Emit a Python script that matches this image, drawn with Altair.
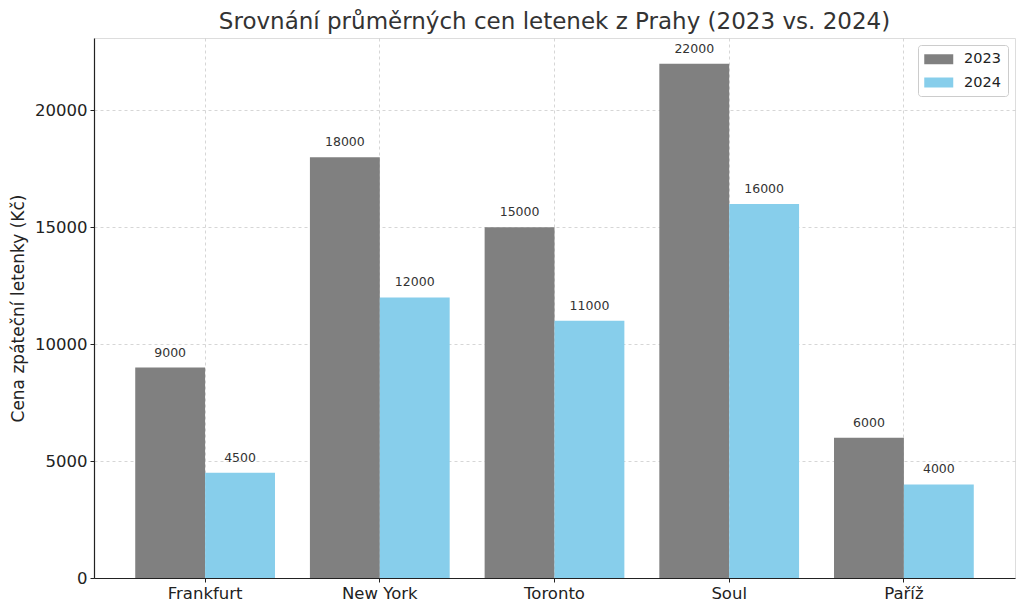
import altair as alt
import pandas as pd

cities = ["Frankfurt", "New York", "Toronto", "Soul", "Paříž"]
prices_2023 = [9000, 18000, 15000, 22000, 6000]
prices_2024 = [4500, 12000, 11000, 16000, 4000]
years = ["2023", "2024"]
colors = ["#808080", "#87CEEB"]

rows = []
for c, a, b in zip(cities, prices_2023, prices_2024):
    rows.append({"Město": c, "Rok": "2023", "Cena": a})
    rows.append({"Město": c, "Rok": "2024", "Cena": b})
df = pd.DataFrame(rows)

FONT = "DejaVu Sans"

x = alt.X("Město:N", sort=cities, title=None,
          scale=alt.Scale(paddingInner=0.2, paddingOuter=0.236),
          axis=alt.Axis(labelAngle=0, labelFontSize=16.5, labelFont=FONT, labelColor="#222",
                        labelPadding=3, tickSize=4, tickColor="#222",
                        domainColor="#222", domainWidth=1.2, grid=True,
                        gridDash=[3, 3], gridColor="#cccccc", gridWidth=0.8,
                        bandPosition=0.5))
y = alt.Y("Cena:Q", title="Cena zpáteční letenky (Kč)",
          scale=alt.Scale(domain=[0, 23100], nice=False),
          axis=alt.Axis(values=[0, 5000, 10000, 15000, 20000], format="d",
                        labelFontSize=16.5, labelFont=FONT, labelColor="#222", tickSize=4,
                        labelPadding=3,
                        tickColor="#222", domainColor="#222", domainWidth=1.2,
                        titleFontSize=17, titleFont=FONT, titleColor="#222",
                        titleFontWeight="normal",
                        titlePadding=7, gridDash=[3, 3], gridColor="#cccccc",
                        gridWidth=0.8))
xo = alt.XOffset("Rok:N", sort=years, scale=alt.Scale(paddingInner=0, paddingOuter=0))

bars = alt.Chart(df).mark_bar().encode(
    x=x, y=y, xOffset=xo,
    color=alt.Color("Rok:N", sort=years,
                    scale=alt.Scale(domain=years, range=colors),
                    legend=alt.Legend(title=None, orient="none", legendX=824, legendY=7,
                                      symbolType="M-2.9,-1L2.9,-1L2.9,1L-2.9,1Z",
                                      symbolSize=100, symbolStrokeWidth=0,
                                      symbolOffset=6.5,
                                      labelFontSize=14.5, labelColor="#222",
                                      labelFont=FONT, rowPadding=8.25,
                                      labelOffset=18, padding=7,
                                      strokeColor="#cccccc", fillColor="white",
                                      cornerRadius=3)),
)

labels = alt.Chart(df).mark_text(baseline="bottom", dy=-8, fontSize=12.5,
                                 color="#333", font=FONT).encode(
    x=x, y=y, xOffset=xo, text=alt.Text("Cena:Q", format="d"))

chart = (bars + labels).properties(
    width=921, height=540,
    title=alt.Title("Srovnání průměrných cen letenek z Prahy (2023 vs. 2024)",
                    fontSize=23, font=FONT, fontWeight="normal", color="#333",
                    offset=4, anchor="middle"),
    autosize=alt.AutoSizeParams(type="none"),
    padding={"left": 86, "top": 30, "right": 1, "bottom": 25},
).configure_view(stroke=None).configure(background="white")

chart.save("out.html", embed_options={"renderer": "svg", "actions": False})
